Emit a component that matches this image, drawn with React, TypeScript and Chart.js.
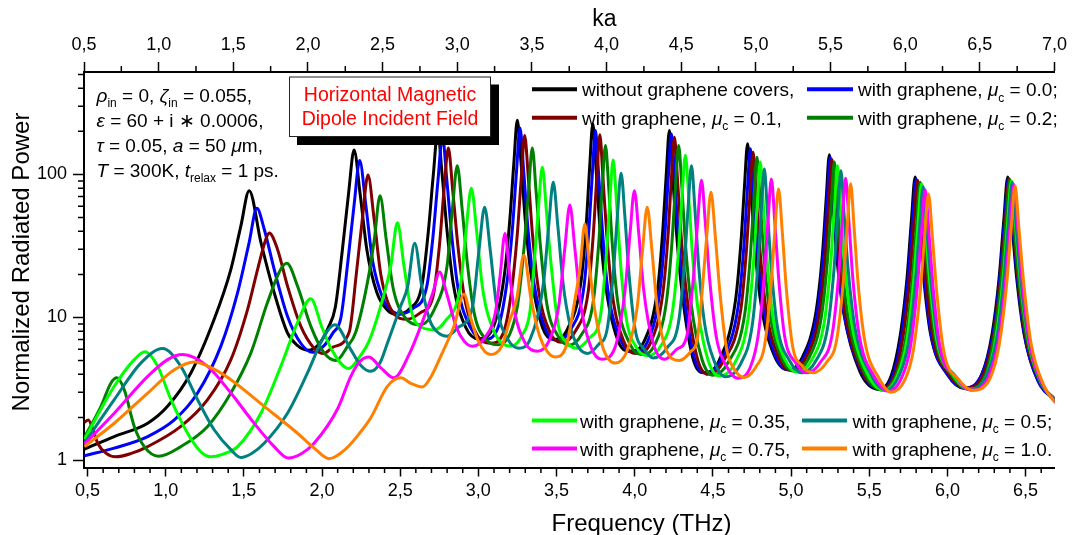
import React, { useEffect, useRef } from 'react';
import { Chart, registerables } from 'chart.js';

Chart.register(...registerables);

const FONT = '"Liberation Sans", Arial, Helvetica, sans-serif';

// ---------- axes ----------
const freqTicks = [0.5, 1.0, 1.5, 2.0, 2.5, 3.0, 3.5, 4.0, 4.5, 5.0, 5.5, 6.0, 6.5];
const kaTicks = [0.5, 1.0, 1.5, 2.0, 2.5, 3.0, 3.5, 4.0, 4.5, 5.0, 5.5, 6.0, 6.5, 7.0];
const powerTicks = [1, 10, 100];
const powerMinorTicks = [2, 3, 4, 5, 6, 7, 8, 9, 20, 30, 40, 50, 60, 70, 80, 90, 200, 300, 400, 500];
const freqMin = 0.4775;
const freqMax = 6.685;
const kaMin = 0.5;
const kaMax = 7.0;
const powerMin = 0.893;
const powerMax = 520;

// ---------- series: [frequency THz, normalized radiated power] ----------
const blackPts = [[0.48,1.2],[0.671,1.47],[0.885,1.82],[1.012,2.39],[1.161,4.09],[1.31,9.7],[1.417,21.7],[1.481,43.7],[1.534,77],[1.609,33.5],[1.694,14.9],[1.779,7.8],[1.84,6.4],[1.91,5.9],[1.98,6.5],[2.04,8.5],[2.085,11.8],[2.13,29.6],[2.17,74],[2.205,148],[2.243,74],[2.287,29.6],[2.35,15],[2.42,11.2],[2.48,10.5],[2.56,11.5],[2.64,17],[2.68,40],[2.712,100],[2.74,200],[2.768,100],[2.80,40],[2.84,17],[2.92,8.5],[3.0,7.1],[3.09,8.3],[3.164,19],[3.201,48],[3.227,120],[3.249,239],[3.273,120],[3.30,48],[3.34,19],[3.41,8.5],[3.48,7.0],[3.57,8.3],[3.657,18],[3.69,45],[3.712,113],[3.732,226],[3.752,113],[3.776,45],[3.81,18],[3.89,7],[3.97,5.8],[4.06,6.8],[4.147,16],[4.18,41],[4.202,101],[4.222,203],[4.242,101],[4.266,41],[4.30,16],[4.37,5.3],[4.44,4.1],[4.54,5.0],[4.644,13],[4.679,33],[4.702,82],[4.722,164],[4.742,82],[4.767,33],[4.805,13],[4.89,5.5],[4.98,4.3],[5.07,5.2],[5.16,11],[5.20,27],[5.225,68],[5.245,137],[5.265,68],[5.292,27],[5.335,11],[5.44,4.2],[5.56,3.15],[5.64,3.9],[5.70,7.7],[5.742,19],[5.77,48],[5.794,96],[5.818,48],[5.848,19],[5.892,7.7],[6.0,4.0],[6.11,3.2],[6.22,4.0],[6.286,7.7],[6.331,19],[6.361,48],[6.386,96],[6.411,48],[6.443,19],[6.49,7.7],[6.58,3.6],[6.7,2.6]];

const bluePts = [[0.48,1.08],[0.671,1.22],[0.885,1.47],[1.055,1.92],[1.204,2.96],[1.353,6.3],[1.46,14.9],[1.534,33.5],[1.583,58],[1.63,41.5],[1.694,21.7],[1.779,10.2],[1.864,6.6],[1.94,5.7],[2.01,6.3],[2.07,7.8],[2.121,10],[2.166,25],[2.206,62.5],[2.241,125],[2.279,62.5],[2.323,25],[2.39,13.5],[2.45,11],[2.50,10.6],[2.58,11.5],[2.67,16.5],[2.71,37],[2.742,92],[2.77,185],[2.798,92],[2.83,37],[2.87,16],[2.95,8.5],[3.035,7.0],[3.12,8.2],[3.181,17],[3.218,42],[3.244,105],[3.266,211],[3.29,105],[3.317,42],[3.357,17],[3.43,8.3],[3.50,6.9],[3.59,8.2],[3.674,16],[3.707,41],[3.729,101],[3.749,203],[3.769,101],[3.793,41],[3.827,16],[3.91,7],[3.99,5.7],[4.08,6.7],[4.16,15],[4.193,38],[4.215,96],[4.235,192],[4.255,96],[4.279,38],[4.313,15],[4.38,5.3],[4.45,4.1],[4.55,5.0],[4.662,12],[4.697,30],[4.72,75],[4.74,151],[4.76,75],[4.785,30],[4.823,12],[4.90,5.4],[4.99,4.3],[5.08,5.2],[5.166,10.5],[5.206,26],[5.231,66],[5.251,132],[5.271,66],[5.298,26],[5.341,10.5],[5.45,4.2],[5.57,3.15],[5.65,3.9],[5.706,7.4],[5.748,18.6],[5.776,46],[5.80,93],[5.824,46],[5.854,18.6],[5.898,7.4],[6.0,4.0],[6.115,3.2],[6.22,4.0],[6.29,7.5],[6.335,19],[6.365,47],[6.39,94],[6.415,47],[6.447,19],[6.494,7.5],[6.58,3.6],[6.7,2.6]];

const darkRedPts = [[0.48,1.85],[0.505,1.92],[0.535,1.65],[0.565,1.32],[0.62,1.12],[0.68,1.06],[0.78,1.12],[0.885,1.25],[1.097,1.73],[1.268,2.66],[1.417,5.07],[1.524,11.4],[1.588,21.7],[1.641,35.3],[1.662,39],[1.715,30],[1.779,16.6],[1.864,8.7],[1.949,6.1],[2.01,5.6],[2.07,6.2],[2.174,7.9],[2.219,20],[2.259,50],[2.294,99],[2.332,50],[2.376,20],[2.45,11],[2.546,9.7],[2.63,10.8],[2.71,14],[2.75,31],[2.78,77],[2.808,153],[2.836,77],[2.87,31],[2.91,14],[2.99,7.6],[3.078,6.6],[3.16,7.8],[3.211,15],[3.248,37],[3.274,93],[3.296,187],[3.32,93],[3.347,37],[3.387,15],[3.46,7.8],[3.53,6.7],[3.62,8.0],[3.702,15],[3.735,38],[3.757,94],[3.777,189],[3.797,94],[3.821,38],[3.855,15],[3.93,6.8],[4.01,5.6],[4.10,6.6],[4.179,14.5],[4.212,36],[4.234,91],[4.254,182],[4.274,91],[4.298,36],[4.332,14.5],[4.40,5.2],[4.47,4.0],[4.57,5.0],[4.679,11.4],[4.714,29],[4.737,72],[4.757,143],[4.777,72],[4.802,29],[4.84,11.4],[4.92,5.3],[5.0,4.25],[5.09,5.1],[5.177,10],[5.217,25],[5.242,63],[5.262,127],[5.282,63],[5.309,25],[5.352,10],[5.46,4.1],[5.58,3.15],[5.66,3.9],[5.716,7.3],[5.758,18],[5.786,45],[5.81,91],[5.834,45],[5.864,18],[5.908,7.3],[6.01,4.0],[6.12,3.2],[6.23,4.0],[6.295,7.4],[6.34,18.6],[6.37,46],[6.395,93],[6.42,46],[6.452,18.6],[6.50,7.4],[6.59,3.6],[6.7,2.6]];

const greenPts = [[0.48,1.45],[0.586,2.39],[0.65,3.48],[0.688,3.78],[0.735,3.12],[0.799,1.73],[0.863,1.25],[0.955,1.07],[1.097,1.25],[1.268,1.73],[1.417,2.96],[1.545,5.65],[1.651,12.7],[1.736,21.7],[1.775,23.9],[1.843,16.6],[1.928,8.7],[2.013,5.65],[2.09,5.0],[2.16,6.2],[2.216,7.9],[2.30,20],[2.335,35.5],[2.371,71],[2.41,35.5],[2.455,16],[2.53,10],[2.631,8.9],[2.72,11.5],[2.80,23],[2.834,57.5],[2.865,115],[2.896,57.5],[2.931,23],[2.975,10.5],[3.05,7.0],[3.13,6.45],[3.20,7.6],[3.251,12.2],[3.292,30.6],[3.321,76.5],[3.345,153],[3.369,76.5],[3.398,30.6],[3.439,12.2],[3.51,7.4],[3.58,6.4],[3.66,7.6],[3.734,12.7],[3.769,32],[3.792,80],[3.813,159],[3.834,80],[3.857,32],[3.892,12.7],[3.97,6.5],[4.04,5.5],[4.13,6.5],[4.202,12.7],[4.237,32],[4.26,80],[4.281,159],[4.302,80],[4.325,32],[4.36,12.7],[4.43,5.1],[4.50,3.95],[4.60,4.9],[4.704,10.6],[4.739,26.4],[4.762,66],[4.782,132],[4.802,66],[4.827,26.4],[4.865,10.6],[4.94,5.2],[5.02,4.2],[5.11,5.1],[5.192,9.8],[5.232,24.4],[5.257,61],[5.277,122],[5.297,61],[5.324,24.4],[5.367,9.8],[5.47,4.1],[5.59,3.1],[5.67,3.9],[5.732,7],[5.774,17.6],[5.802,44],[5.826,88],[5.85,44],[5.88,17.6],[5.924,7],[6.03,3.9],[6.13,3.15],[6.24,3.9],[6.30,7.4],[6.345,18.4],[6.375,46],[6.40,92],[6.425,46],[6.457,18.4],[6.505,7.4],[6.59,3.6],[6.7,2.6]];

const limePts = [[0.48,1.4],[0.671,3.3],[0.799,5.07],[0.867,5.75],[0.949,4.55],[1.034,2.66],[1.14,1.55],[1.225,1.15],[1.29,1.06],[1.38,1.12],[1.46,1.25],[1.609,2.14],[1.736,4.55],[1.843,9.2],[1.928,13.5],[2.0,8.5],[2.06,6.0],[2.17,4.4],[2.25,5.5],[2.30,6.8],[2.375,12],[2.44,23],[2.482,46],[2.524,23],[2.572,11],[2.64,8.5],[2.716,8.2],[2.79,9.5],[2.883,16],[2.921,40],[2.955,80],[2.989,40],[3.027,16],[3.10,8.0],[3.206,6.3],[3.28,7.5],[3.33,11],[3.355,22.4],[3.383,56],[3.409,112],[3.435,56],[3.467,22.4],[3.51,9],[3.57,6.6],[3.63,6.1],[3.71,7.2],[3.779,10],[3.816,25],[3.84,63],[3.862,126],[3.884,63],[3.908,25],[3.945,10],[4.01,6.2],[4.08,5.4],[4.17,6.4],[4.241,10.9],[4.278,27],[4.302,68],[4.324,136],[4.346,68],[4.37,27],[4.407,10.9],[4.47,5.0],[4.54,3.9],[4.64,4.8],[4.725,9.8],[4.76,24.4],[4.783,61],[4.803,122],[4.823,61],[4.848,24.4],[4.886,9.8],[4.96,5.1],[5.04,4.15],[5.13,5.0],[5.212,9.2],[5.252,23],[5.277,57.5],[5.297,115],[5.317,57.5],[5.344,23],[5.387,9.2],[5.49,4.0],[5.60,3.1],[5.68,3.9],[5.741,6.9],[5.783,17.2],[5.811,43],[5.835,86],[5.859,43],[5.889,17.2],[5.933,6.9],[6.04,3.9],[6.14,3.15],[6.25,3.9],[6.31,7.2],[6.355,18],[6.385,45],[6.41,90],[6.435,45],[6.467,18],[6.515,7.2],[6.60,3.5],[6.7,2.55]];

const tealPts = [[0.48,1.32],[0.671,2.66],[0.842,4.81],[0.98,6.06],[1.097,4.55],[1.204,2.66],[1.31,1.64],[1.417,1.19],[1.48,1.05],[1.55,1.12],[1.63,1.32],[1.779,2.14],[1.907,4.09],[2.013,7.4],[2.081,8.9],[2.184,5.96],[2.25,4.6],[2.311,4.2],[2.37,4.8],[2.418,6.6],[2.503,12],[2.548,16.5],[2.593,33],[2.638,16.5],[2.69,9.5],[2.75,7.7],[2.80,7.4],[2.87,8.5],[2.962,11.8],[3.004,29.5],[3.04,59],[3.076,29.5],[3.118,11.8],[3.19,7],[3.259,6.1],[3.33,7],[3.417,17.6],[3.45,44],[3.479,88],[3.508,44],[3.541,17.6],[3.59,8.5],[3.64,6.2],[3.70,5.6],[3.77,6.5],[3.823,8.2],[3.863,20.4],[3.889,51],[3.913,102],[3.937,51],[3.963,20.4],[4.003,8.2],[4.06,6.0],[4.12,5.2],[4.21,6.2],[4.28,9.2],[4.317,23],[4.341,57.5],[4.363,115],[4.385,57.5],[4.409,23],[4.446,9.2],[4.51,4.9],[4.58,3.85],[4.68,4.8],[4.751,8.7],[4.786,21.8],[4.809,54.5],[4.829,109],[4.849,54.5],[4.874,21.8],[4.912,8.7],[4.99,5.0],[5.07,4.1],[5.16,5.0],[5.234,8.5],[5.274,21.2],[5.299,53],[5.319,106],[5.339,53],[5.366,21.2],[5.409,8.5],[5.51,4.0],[5.61,3.1],[5.69,3.9],[5.751,6.6],[5.793,16.4],[5.821,41],[5.845,82],[5.869,41],[5.899,16.4],[5.943,6.6],[6.05,3.9],[6.145,3.15],[6.25,3.9],[6.315,7],[6.36,17.6],[6.39,44],[6.415,88],[6.44,44],[6.472,17.6],[6.52,7],[6.60,3.5],[6.7,2.5]];

const magentaPts = [[0.48,1.3],[0.671,2.14],[0.885,3.87],[1.012,5.07],[1.108,5.5],[1.268,4.55],[1.417,2.96],[1.566,1.82],[1.694,1.25],[1.785,1.04],[1.87,1.12],[1.949,1.32],[2.10,2.3],[2.184,3.87],[2.24,4.9],[2.30,5.3],[2.38,4.4],[2.46,3.78],[2.56,5.6],[2.64,9.2],[2.71,15],[2.752,20.8],[2.795,15],[2.86,8.5],[2.91,6.8],[2.961,6.3],[3.04,7.2],[3.11,11],[3.14,20],[3.17,38.7],[3.20,20],[3.235,10.5],[3.30,6.6],[3.377,5.8],[3.45,6.8],[3.515,12.2],[3.553,30.5],[3.585,61],[3.617,30.5],[3.655,12.2],[3.72,6.2],[3.79,5.1],[3.87,6.0],[3.938,15.4],[3.97,38.5],[3.998,77],[4.026,38.5],[4.058,15.4],[4.12,6.5],[4.19,5.1],[4.27,6.0],[4.332,7.3],[4.374,18.2],[4.402,45.5],[4.427,91],[4.452,45.5],[4.48,18.2],[4.522,7.3],[4.59,4.5],[4.66,3.75],[4.74,4.5],[4.789,7.4],[4.827,18.6],[4.852,46.5],[4.874,93],[4.896,46.5],[4.921,18.6],[4.959,7.4],[5.03,4.8],[5.10,4.1],[5.19,4.9],[5.262,7.5],[5.303,18.8],[5.328,47],[5.349,94],[5.37,47],[5.395,18.8],[5.436,7.5],[5.53,3.9],[5.625,3.05],[5.71,3.85],[5.763,6.2],[5.806,15.6],[5.834,39],[5.858,78],[5.882,39],[5.91,15.6],[5.953,6.2],[6.06,3.8],[6.15,3.1],[6.26,3.8],[6.325,6.8],[6.37,17],[6.40,42.5],[6.425,85],[6.45,42.5],[6.48,17],[6.525,6.8],[6.61,3.4],[6.7,2.5]];

const orangePts = [[0.48,1.25],[0.671,1.82],[0.885,2.96],[1.055,4.31],[1.183,4.89],[1.30,4.4],[1.417,3.67],[1.63,2.39],[1.843,1.55],[1.95,1.22],[2.045,1.03],[2.15,1.2],[2.24,1.55],[2.311,1.98],[2.418,3.3],[2.503,3.78],[2.57,3.45],[2.642,3.26],[2.70,3.9],[2.759,5.35],[2.844,8.7],[2.908,14.5],[2.95,10],[3.0,6.8],[3.078,5.5],[3.15,6.3],[3.20,9.5],[3.246,13.6],[3.291,27.2],[3.336,13.6],[3.39,7.5],[3.44,5.8],[3.49,5.3],[3.56,6.2],[3.616,13],[3.651,22.5],[3.681,45],[3.711,22.5],[3.746,11],[3.80,6.0],[3.876,4.8],[3.95,5.8],[4.016,11.8],[4.05,29.5],[4.08,59],[4.11,29.5],[4.144,11.8],[4.20,6.0],[4.286,5.0],[4.36,5.8],[4.40,7.0],[4.431,15],[4.461,37.5],[4.488,75],[4.515,37.5],[4.545,15],[4.588,6],[4.64,4.3],[4.70,3.8],[4.78,4.6],[4.83,6.3],[4.87,15.8],[4.896,39.5],[4.92,79],[4.944,39.5],[4.97,15.8],[5.01,6.3],[5.07,4.6],[5.14,4.1],[5.23,4.9],[5.291,6.9],[5.333,17.2],[5.359,43],[5.381,86],[5.403,43],[5.429,17.2],[5.471,6.9],[5.56,3.8],[5.64,3.0],[5.73,3.7],[5.781,5.8],[5.825,14.6],[5.854,36.5],[5.879,73],[5.904,36.5],[5.933,14.6],[5.977,5.8],[6.07,3.7],[6.16,3.1],[6.27,3.7],[6.333,6.6],[6.378,16.6],[6.408,41.5],[6.433,83],[6.458,41.5],[6.49,16.6],[6.535,6.6],[6.62,3.3],[6.7,2.45]];

type Seg = { t: string; it?: boolean; sub?: boolean };
const mu = (v: string): Seg[] => [{ t: 'with graphene, ' }, { t: 'μ', it: true }, { t: 'c', sub: true }, { t: ` = ${v}` }];

const seriesNames: Seg[][] = [
  [{ t: 'without graphene covers,' }],
  mu('0.0;'),
  mu('0.1,'),
  mu('0.2;'),
  mu('0.35,'),
  mu('0.5;'),
  mu('0.75,'),
  mu('1.0.'),
];
const seriesColors = ['#000000', '#0000FF', '#800000', '#008000', '#00FF00', '#008080', '#FF00FF', '#FF8000'];
const seriesData = [blackPts, bluePts, darkRedPts, greenPts, limePts, tealPts, magentaPts, orangePts];

const paramLines: Seg[][] = [
  [{ t: 'ρ', it: true }, { t: 'in', sub: true }, { t: ' = 0, ' }, { t: 'ζ', it: true }, { t: 'in', sub: true }, { t: ' = 0.055,' }],
  [{ t: 'ε', it: true }, { t: ' = 60 + i ∗ 0.0006,' }],
  [{ t: 'τ', it: true }, { t: ' = 0.05, ' }, { t: 'a', it: true }, { t: ' = 50 ' }, { t: 'μ', it: true }, { t: 'm,' }],
  [{ t: 'T', it: true }, { t: ' = 300K, ' }, { t: 't', it: true }, { t: 'relax', sub: true }, { t: ' = 1 ps.' }],
];
const boxLines = ['Horizontal Magnetic', 'Dipole Incident Field'];

const fmtComma = (v: number) => v.toFixed(1).replace('.', ',');

function drawRich(ctx: CanvasRenderingContext2D, x: number, y: number, segs: Seg[], size: number, color: string) {
  let cx = x;
  ctx.fillStyle = color;
  ctx.textBaseline = 'alphabetic';
  ctx.textAlign = 'left';
  for (const s of segs) {
    const fs = s.sub ? Math.round(size * 0.65) : size;
    ctx.font = `${s.it ? 'italic ' : ''}${fs}px ${FONT}`;
    ctx.fillText(s.t, cx, s.sub ? y + size * 0.28 : y);
    cx += ctx.measureText(s.t).width;
  }
  return cx;
}

const decorPlugin = {
  id: 'decor',
  afterDatasetsDraw(chart: any) {
    const ctx: CanvasRenderingContext2D = chart.ctx;
    const { left, top, bottom } = chart.chartArea;
    const xs = chart.scales.x;
    const x2 = chart.scales.x2;
    const ys = chart.scales.y;
    ctx.save();
    // minor ticks
    ctx.strokeStyle = '#000';
    ctx.lineWidth = 1.5;
    ctx.beginPath();
    for (let i = 5; i <= 66; i++) {
      if (i % 5 === 0) continue;
      const px = xs.getPixelForValue(i / 10);
      ctx.moveTo(px, bottom);
      ctx.lineTo(px, bottom + 5.5);
    }
    for (let i = 3; i <= 27; i += 2) {
      const px = x2.getPixelForValue(i * 0.25);
      ctx.moveTo(px, top);
      ctx.lineTo(px, top - 6);
    }
    for (const v of powerMinorTicks) {
      if (v < powerMin || v > powerMax) continue;
      const py = ys.getPixelForValue(v);
      ctx.moveTo(left, py);
      ctx.lineTo(left - 6, py);
    }
    ctx.stroke();

    // text box with shadow
    const bx = 289, by = 76.5, bw = 202, bh = 60.5;
    ctx.fillStyle = '#000';
    ctx.fillRect(bx + 8, by + 8, bw, bh);
    ctx.fillStyle = '#fff';
    ctx.fillRect(bx, by, bw, bh);
    ctx.strokeStyle = '#222';
    ctx.lineWidth = 1;
    ctx.strokeRect(bx + 0.5, by + 0.5, bw - 1, bh - 1);
    ctx.fillStyle = '#FF0000';
    ctx.font = `19.5px ${FONT}`;
    ctx.textAlign = 'center';
    ctx.textBaseline = 'alphabetic';
    ctx.fillText(boxLines[0], bx + bw / 2, 100.5);
    ctx.fillText(boxLines[1], bx + bw / 2, 124.7);

    // parameter text
    const pBase = [101.5, 126.5, 151.5, 176.5];
    paramLines.forEach((segs, i) => drawRich(ctx, 96.5, pBase[i], segs, 19, '#000'));

    // legends
    const legendPos = [
      [532, 577, 89.3, 582], [807, 853, 89.3, 858],
      [532, 577, 117.7, 582], [807, 853, 117.7, 858],
      [532, 577, 420.5, 580], [802, 847, 420.5, 852.5],
      [532, 577, 448.5, 580], [802, 847, 448.5, 852.5],
    ];
    legendPos.forEach(([x1, xe, ly, tx], i) => {
      ctx.strokeStyle = seriesColors[i];
      ctx.lineWidth = 4;
      ctx.lineCap = 'butt';
      ctx.beginPath();
      ctx.moveTo(x1, ly);
      ctx.lineTo(xe, ly);
      ctx.stroke();
      drawRich(ctx, tx, ly + 7, seriesNames[i], 19, '#000');
    });

    // axis titles
    ctx.fillStyle = '#000';
    ctx.textAlign = 'center';
    ctx.textBaseline = 'alphabetic';
    ctx.font = `23px ${FONT}`;
    ctx.fillText('ka', 604.5, 26);
    ctx.font = `24px ${FONT}`;
    ctx.fillText('Frequency (THz)', 641.5, 531);
    ctx.save();
    ctx.translate(29, 262);
    ctx.rotate(-Math.PI / 2);
    ctx.fillText('Normalized Radiated Power', 0, 0);
    ctx.restore();

    ctx.restore();
  },
};

export default function App() {
  const ref = useRef<HTMLCanvasElement | null>(null);
  useEffect(() => {
    const canvas = ref.current;
    if (!canvas) return;
    const tickFont = { family: FONT, size: 18 };
    const chart = new Chart(canvas, {
      type: 'line',
      data: {
        datasets: seriesData.map((pts, i) => ({
          label: seriesNames[i].map((s) => s.t).join(''),
          data: pts.map(([x, y]) => ({ x, y })),
          borderColor: seriesColors[i],
          backgroundColor: seriesColors[i],
          borderWidth: 3,
          pointRadius: 0,
          fill: false,
          cubicInterpolationMode: 'monotone' as const,
          order: 7 - i,
        })),
      },
      options: {
        animation: false,
        responsive: false,
        maintainAspectRatio: false,
        layout: { padding: { left: 0, right: 17, top: 0, bottom: 0 } },
        plugins: { legend: { display: false }, tooltip: { enabled: false }, title: { display: false } },
        scales: {
          x: {
            type: 'linear',
            position: 'bottom',
            min: freqMin,
            max: freqMax,
            afterBuildTicks: (s: any) => { s.ticks = freqTicks.map((v) => ({ value: v })); },
            afterFit: (s: any) => { s.height = 67.5; },
            ticks: { callback: (v: any) => fmtComma(Number(v)), font: tickFont, color: '#000', padding: 4, autoSkip: false, maxRotation: 0 },
            grid: { drawOnChartArea: false, tickLength: 9, tickWidth: 1.5, tickColor: '#000' },
            border: { display: true, color: '#000', width: 2 },
          },
          x2: {
            type: 'linear',
            position: 'top',
            min: kaMin,
            max: kaMax,
            afterBuildTicks: (s: any) => { s.ticks = kaTicks.map((v) => ({ value: v })); },
            afterFit: (s: any) => { s.height = 72; },
            ticks: { callback: (v: any) => fmtComma(Number(v)), font: tickFont, color: '#000', padding: 6, autoSkip: false, maxRotation: 0 },
            grid: { drawOnChartArea: false, tickLength: 10, tickWidth: 1.5, tickColor: '#000' },
            border: { display: true, color: '#000', width: 2 },
          },
          y: {
            type: 'logarithmic',
            min: powerMin,
            max: powerMax,
            afterBuildTicks: (s: any) => { s.ticks = powerTicks.map((v) => ({ value: v })); },
            afterFit: (s: any) => { s.width = 84; },
            ticks: { callback: (v: any) => String(v), font: tickFont, color: '#000', padding: 6, autoSkip: false },
            grid: { drawOnChartArea: false, tickLength: 11, tickWidth: 1.5, tickColor: '#000' },
            border: { display: true, color: '#000', width: 2 },
          },
        },
      },
      plugins: [decorPlugin],
    } as any);
    return () => chart.destroy();
  }, []);
  return (
    <div style={{ position: 'absolute', left: 0, top: 0, width: 1073, height: 535, background: '#fff' }}>
      <canvas ref={ref} width={1073} height={535} style={{ display: 'block', width: 1073, height: 535 }} />
    </div>
  );
}
